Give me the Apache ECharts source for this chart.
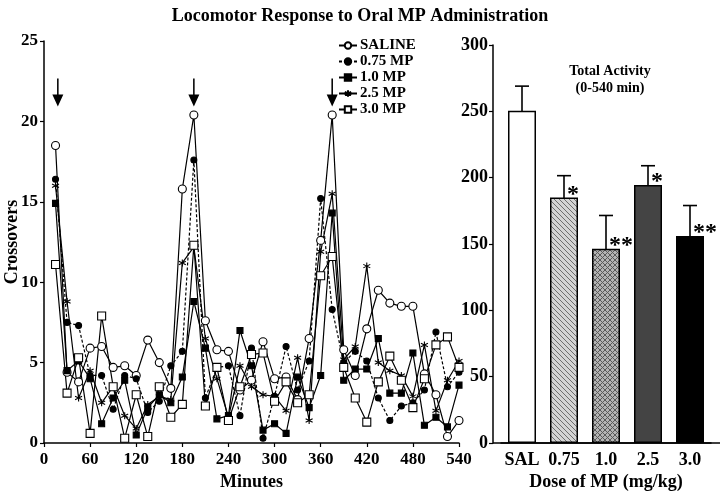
<!DOCTYPE html>
<html>
<head>
<meta charset="utf-8">
<script src="https://cdn.jsdelivr.net/npm/echarts@6/dist/echarts.min.js"></script>
<style>
  html, body { margin: 0; padding: 0; background: #fff; }
  #chart { width: 720px; height: 493px; }
</style>
</head>
<body>
<div id="chart"></div>
<script>
// time course, one point every 15 min
var minutes = [15, 30, 45, 60, 75, 90, 105, 120, 135, 150, 165, 180,
  195, 210, 225, 240, 255, 270, 285, 300, 315, 330, 345, 360,
  375, 390, 405, 420, 435, 450, 465, 480, 495, 510, 525, 540];
var saline = [18.5, 4.4, 3.8, 5.9, 6.0, 4.7, 4.8, 4.2, 6.4, 5.0, 3.4, 15.8,
  20.4, 7.6, 5.8, 5.7, 3.3, 3.9, 6.3, 4.0, 4.1, 2.7, 6.5, 12.6,
  20.4, 5.8, 4.2, 7.1, 9.5, 8.7, 8.5, 8.5, 4.3, 3.0, 0.4, 1.4];
var mp075 = [16.4, 7.5, 7.3, 4.2, 4.2, 2.1, 4.2, 4.0, 1.9, 2.6, 4.8, 5.7,
  17.6, 2.8, 4.7, 4.8, 1.7, 5.9, 0.3, 2.9, 6.0, 3.3, 5.1, 15.2,
  8.3, 5.0, 5.7, 5.1, 2.8, 1.4, 2.3, 2.5, 3.3, 6.9, 3.5, 4.4];
var mp10 = [14.9, 4.5, 5.1, 4.0, 1.2, 2.8, 3.9, 0.5, 2.2, 3.0, 2.5, 4.1,
  8.8, 5.9, 1.5, 1.7, 7.0, 4.8, 0.8, 1.2, 0.6, 4.1, 2.2, 4.2,
  14.3, 3.9, 4.6, 4.6, 6.5, 3.1, 3.1, 5.6, 1.1, 1.6, 1.0, 3.6];
var mp25 = [16.0, 8.8, 2.8, 4.5, 2.5, 3.5, 1.7, 0.9, 2.4, 2.9, 2.7, 11.2,
  12.2, 6.5, 4.0, 1.6, 4.8, 3.5, 3.0, 2.9, 2.0, 5.3, 1.4, 11.9,
  15.5, 5.2, 6.0, 11.0, 5.0, 4.5, 4.2, 2.9, 6.1, 2.0, 3.9, 5.1];
var mp30 = [11.1, 3.1, 5.3, 0.6, 7.9, 3.5, 0.3, 3.0, 0.4, 3.5, 1.6, 2.4,
  12.3, 2.3, 4.7, 1.4, 3.5, 5.5, 5.6, 2.6, 3.8, 2.5, 3.0, 10.4,
  11.6, 4.7, 2.8, 1.3, 3.8, 5.4, 3.9, 2.2, 4.0, 6.1, 6.6, 4.7];
var arrowTimes = [18, 195, 375];
var arrowLevel = 21.8;

// total activity 0-540 min
var doses = ['SAL', '0.75', '1.0', '2.5', '3.0'];
var totalMean = [250.5, 185, 146.5, 194.5, 156];
var totalSem = [18.5, 16.5, 25, 14.5, 23];
var signif = ['', '*', '**', '*', '**'];

var serif = '"Liberation Serif", "DejaVu Serif", serif';

function pattern(bg, fg, cross) {
  var c = document.createElement('canvas');
  c.width = 5; c.height = 5;
  var g = c.getContext('2d');
  g.fillStyle = bg; g.fillRect(0, 0, 5, 5);
  g.strokeStyle = fg; g.lineWidth = 1;
  g.beginPath();
  g.moveTo(-1, -1); g.lineTo(6, 6);
  if (cross) { g.moveTo(6, -1); g.lineTo(-1, 6); }
  g.stroke();
  return { image: c, repeat: 'repeat' };
}
var barFills = ['#ffffff', pattern('#d4d4d4', '#6e6e6e', false), pattern('#b4b4b4', '#5a5a5a', true), '#444444', '#000000'];

var chart = echarts.init(document.getElementById('chart'));

function pairs(ys) {
  return minutes.map(function (m, i) { return [m, ys[i]]; });
}
var star = 'path://M5,0L5,10M0.7,2.5L9.3,7.5M0.7,7.5L9.3,2.5';

function lineSeries(name, ys, symbol, fill, dashed, size) {
  return {
    name: name, type: 'line', data: pairs(ys),
    xAxisIndex: 0, yAxisIndex: 0,
    symbol: symbol, symbolSize: size,
    lineStyle: { color: '#000', width: 1.2, type: dashed ? [3, 2] : 'solid' },
    itemStyle: { color: fill, borderColor: '#000', borderWidth: 1.1 },
    emphasis: { disabled: true },
    animation: false
  };
}

var series = [
  lineSeries('SALINE', saline, 'circle', '#fff', false, 8),
  lineSeries('0.75 MP', mp075, 'circle', '#000', true, 6),
  lineSeries('1.0 MP', mp10, 'rect', '#000', false, 6),
  lineSeries('2.5 MP', mp25, star, '#000', false, 7),
  lineSeries('3.0 MP', mp30, 'rect', '#fff', false, 8)
];

series[0].markPoint = {
  symbol: 'path://M4.3,0L5.7,0L5.7,16L10,16L5,28L0,16L4.3,16Z',
  symbolSize: [11, 28],
  itemStyle: { color: '#000' },
  label: { show: false },
  data: arrowTimes.map(function (t) { return { coord: [t, arrowLevel] }; })
};

series.push({
  type: 'bar', xAxisIndex: 1, yAxisIndex: 1,
  barWidth: 28,
  data: totalMean.map(function (v, i) {
    return { value: v, itemStyle: { color: barFills[i] } };
  }),
  itemStyle: { borderColor: '#000', borderWidth: 1.5 },
  animation: false
});

series.push({
  type: 'custom', xAxisIndex: 1, yAxisIndex: 1,
  data: totalMean.map(function (v, i) { return [i, v, totalSem[i], signif[i]]; }),
  renderItem: function (params, api) {
    var x = api.coord([api.value(0), 0])[0];
    var m = api.value(1), s = api.value(2);
    var top = api.coord([api.value(0), m + s])[1];
    var bot = api.coord([api.value(0), m - s])[1];
    var mid = api.coord([api.value(0), m])[1];
    var w = 7;
    var st = { stroke: '#000', lineWidth: 1.6 };
    var kids = [
      { type: 'line', shape: { x1: x, y1: top, x2: x, y2: bot }, style: st },
      { type: 'line', shape: { x1: x - w, y1: top, x2: x + w, y2: top }, style: st },
      { type: 'line', shape: { x1: x - w, y1: bot, x2: x + w, y2: bot }, style: st }
    ];
    var lab = signif[params.dataIndex];
    if (lab) {
      kids.push({
        type: 'text', x: x + 3, y: mid - 3,
        style: { text: lab, font: 'bold 24px ' + serif, fill: '#000', align: 'left', verticalAlign: 'middle' }
      });
    }
    return { type: 'group', children: kids };
  },
  animation: false,
  silent: true
});

var axisLbl = { color: '#000', fontFamily: serif, fontWeight: 'bold', fontSize: 17 };
var axisLn = { lineStyle: { color: '#000', width: 1.5 } };
var nameStyle = { color: '#000', fontFamily: serif, fontWeight: 'bold', fontSize: 18 };

chart.setOption({
  backgroundColor: '#fff',
  title: [{
    text: 'Locomotor Response to Oral MP Administration',
    left: 'center', top: 2,
    textStyle: { fontFamily: serif, fontWeight: 'bold', fontSize: 18, color: '#000' }
  }, {
    text: 'Total Activity\n(0-540 min)',
    left: 605, top: 58, textAlign: 'center',
    textStyle: { fontFamily: serif, fontWeight: 'bold', fontSize: 14, color: '#000', lineHeight: 17 }
  }],
  legend: {
    data: ['SALINE', '0.75 MP', '1.0 MP', '2.5 MP', '3.0 MP'],
    orient: 'vertical', left: 333, top: 33,
    itemWidth: 18, itemHeight: 8, itemGap: 1,
    textStyle: { fontFamily: serif, fontWeight: 'bold', fontSize: 15, color: '#000', padding: [0, 0, 0, -2] },
    selectedMode: false
  },
  grid: [
    { left: 44, right: 261, top: 41, bottom: 50, outerBoundsMode: 'none' },
    { left: 501, right: 9, top: 45, bottom: 50, outerBoundsMode: 'none' }
  ],
  xAxis: [{
    type: 'value', gridIndex: 0, min: 0, max: 540, interval: 60,
    name: 'Minutes', nameLocation: 'middle', nameGap: 30, nameMoveOverlap: false,
    nameTextStyle: nameStyle,
    axisLine: axisLn, axisTick: { show: true, length: 4, lineStyle: { color: '#000', width: 1.2 } },
    axisLabel: axisLbl, splitLine: { show: false }
  }, {
    type: 'category', gridIndex: 1, data: doses,
    name: 'Dose of MP (mg/kg)', nameLocation: 'middle', nameGap: 30, nameMoveOverlap: false,
    nameTextStyle: nameStyle,
    axisLine: axisLn, axisTick: { show: false },
    axisLabel: Object.assign({}, axisLbl, { fontSize: 18, interval: 0, hideOverlap: false })
  }],
  yAxis: [{
    type: 'value', gridIndex: 0, min: 0, max: 25, interval: 5,
    name: 'Crossovers', nameLocation: 'middle', nameGap: 23, nameMoveOverlap: false,
    nameTextStyle: nameStyle,
    axisLine: { show: true, lineStyle: { color: '#000', width: 1.5 } },
    axisTick: { show: true, length: 4, lineStyle: { color: '#000', width: 1.2 } },
    axisLabel: Object.assign({ margin: 6 }, axisLbl), splitLine: { show: false }
  }, {
    type: 'value', gridIndex: 1, min: 0, max: 300, interval: 50, offset: 8,
    axisLine: { show: true, lineStyle: { color: '#000', width: 1.5 } },
    axisTick: { show: true, length: 4, lineStyle: { color: '#000', width: 1.2 } },
    axisLabel: Object.assign({ margin: 5 }, axisLbl, { fontSize: 18 }), splitLine: { show: false }
  }],
  series: series,
  graphic: [{
    type: 'line', shape: { x1: 493, y1: 443, x2: 720, y2: 443 },
    style: { stroke: '#000', lineWidth: 1.5 }, silent: true
  }]
});
</script>
</body>
</html>
